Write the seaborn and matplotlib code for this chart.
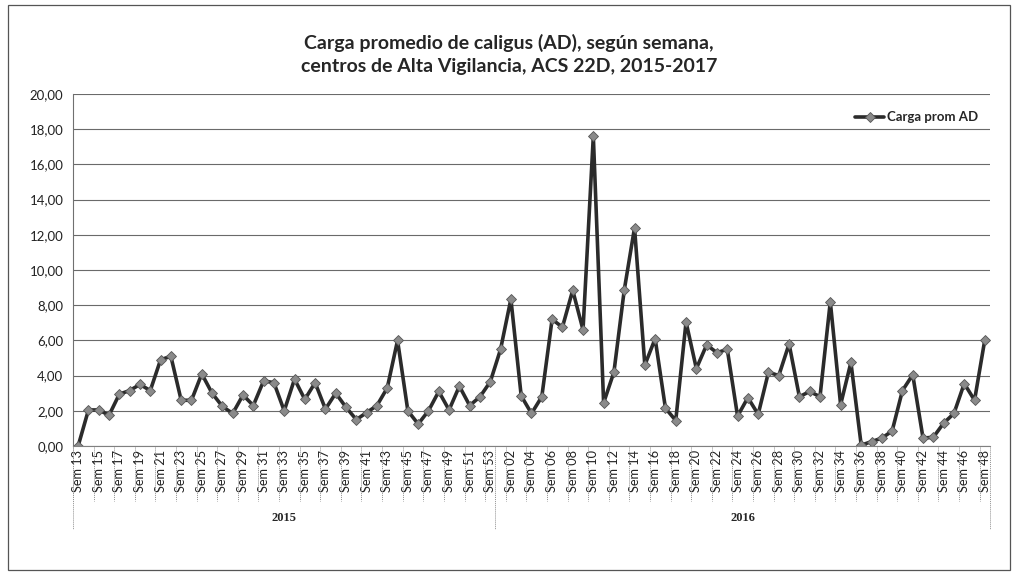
import numpy as np
import pandas as pd
import seaborn as sns
from matplotlib import pyplot as plt
from matplotlib.patches import Rectangle
from matplotlib.lines import Line2D

## Data
weeks_2015 = ["Sem %02d" % w for w in range(13, 54)]
weeks_2016 = ["Sem %02d" % w for w in range(1, 49)]

carga_2015 = [0.0, 2.05, 2.05, 1.75, 2.95, 3.15, 3.5, 3.15, 4.9, 5.1,
              2.6, 2.6, 4.1, 3.0, 2.25, 1.85, 2.9, 2.3, 3.7, 3.6,
              2.0, 3.8, 2.65, 3.6, 2.1, 3.0, 2.2, 1.5, 1.9, 2.3,
              3.3, 6.0, 2.0, 1.25, 2.0, 3.1, 2.05, 3.4, 2.3, 2.8,
              3.65]
carga_2016 = [5.5, 8.35, 2.85, 1.85, 2.8, 7.2, 6.75, 8.85, 6.6, 17.6,
              2.45, 4.2, 8.85, 12.4, 4.6, 6.1, 2.15, 1.45, 7.05, 4.4,
              5.75, 5.3, 5.5, 1.7, 2.75, 1.8, 4.2, 4.0, 5.8, 2.8,
              3.1, 2.8, 8.2, 2.35, 4.75, 0.05, 0.25, 0.45, 0.85, 3.15,
              4.05, 0.45, 0.5, 1.3, 1.85, 3.55, 2.6, 6.05]
years = ["2015", "2016"]

title = "Carga promedio de caligus (AD), según semana,\ncentros de Alta Vigilancia, ACS 22D, 2015-2017"
series_name = "Carga prom AD"

# build the frame
labels = weeks_2015 + weeks_2016
data = pd.DataFrame({
    "pos": np.arange(len(labels)),
    "semana": labels,
    "carga": carga_2015 + carga_2016,
})
n15 = len(weeks_2015)

sns.set_style("white")
plt.rcParams['font.family'] = ['Lato', 'DejaVu Sans']

fig = plt.figure(figsize=(10.18, 5.75), dpi=100)
ax = fig.add_axes([0.0717, 0.2243, 0.9008, 0.6122])

sns.lineplot(data=data, x="pos", y="carga", ax=ax, color="#2b2b2b", linewidth=2.6,
             marker="D", markersize=5, markerfacecolor="#8a8a8a",
             markeredgecolor="#555555", markeredgewidth=0.6, label=series_name)

ax.set_xlim(-0.5, len(labels) - 0.5)
ax.set_ylim(0, 20)
ax.set_yticks(np.arange(0, 21, 2))
ax.yaxis.set_major_formatter(plt.FuncFormatter(lambda v, p: ("%.2f" % v).replace(".", ",")))
ax.tick_params(axis="y", labelsize=9.5, length=3, colors="#222222", pad=4)
ax.grid(axis="y", color="#6a6a6a", linewidth=0.8)
ax.set_axisbelow(True)

# category labels every other week
pos_lbl = data["pos"][::2]
ax.set_xticks(pos_lbl)
ax.set_xticklabels(data["semana"][::2], rotation=90, fontsize=9.2)
ax.tick_params(axis="x", length=0, pad=3, colors="#222222")
ax.set_xlabel("")
ax.set_ylabel("")

for s in ["top", "right"]:
    ax.spines[s].set_visible(False)
ax.spines["left"].set_color("#707070")
ax.spines["left"].set_linestyle((0, (1, 1)))
ax.spines["bottom"].set_color("#808080")

# separators under the axis
trans = ax.get_xaxis_transform()
for xs in np.arange(-0.5, len(labels), 2):
    ax.add_line(Line2D([xs, xs], [0, -0.155], transform=trans, color="#909090",
                       linewidth=0.7, linestyle=(0, (1, 1)), clip_on=False))
for xs in [-0.5, n15 - 0.5, len(labels) - 0.5]:
    ax.add_line(Line2D([xs, xs], [0, -0.235], transform=trans, color="#909090",
                       linewidth=0.7, linestyle=(0, (1, 1)), clip_on=False))
ax.text((n15 - 1) / 2, -0.205, years[0], transform=trans, ha="center", va="center",
        fontsize=9, fontweight="bold", family="Liberation Serif")
ax.text((n15 + len(labels) - 1) / 2, -0.205, years[1], transform=trans, ha="center",
        va="center", fontsize=9, fontweight="bold", family="Liberation Serif")

leg = ax.legend(loc="upper right", bbox_to_anchor=(1.0, 0.985), frameon=False,
                fontsize=9.5, handlelength=2.2, handletextpad=0.2)
for t in leg.get_texts():
    t.set_fontweight("bold")

fig.text(0.5, 0.905, title, ha="center", va="center", fontsize=14,
         fontweight="bold", linespacing=1.4)

fig.patches.append(Rectangle((0.008, 0.008), 0.984, 0.984, transform=fig.transFigure,
                             fill=False, edgecolor="#555555", linewidth=0.9))

fig.savefig("out.png", dpi=100)
